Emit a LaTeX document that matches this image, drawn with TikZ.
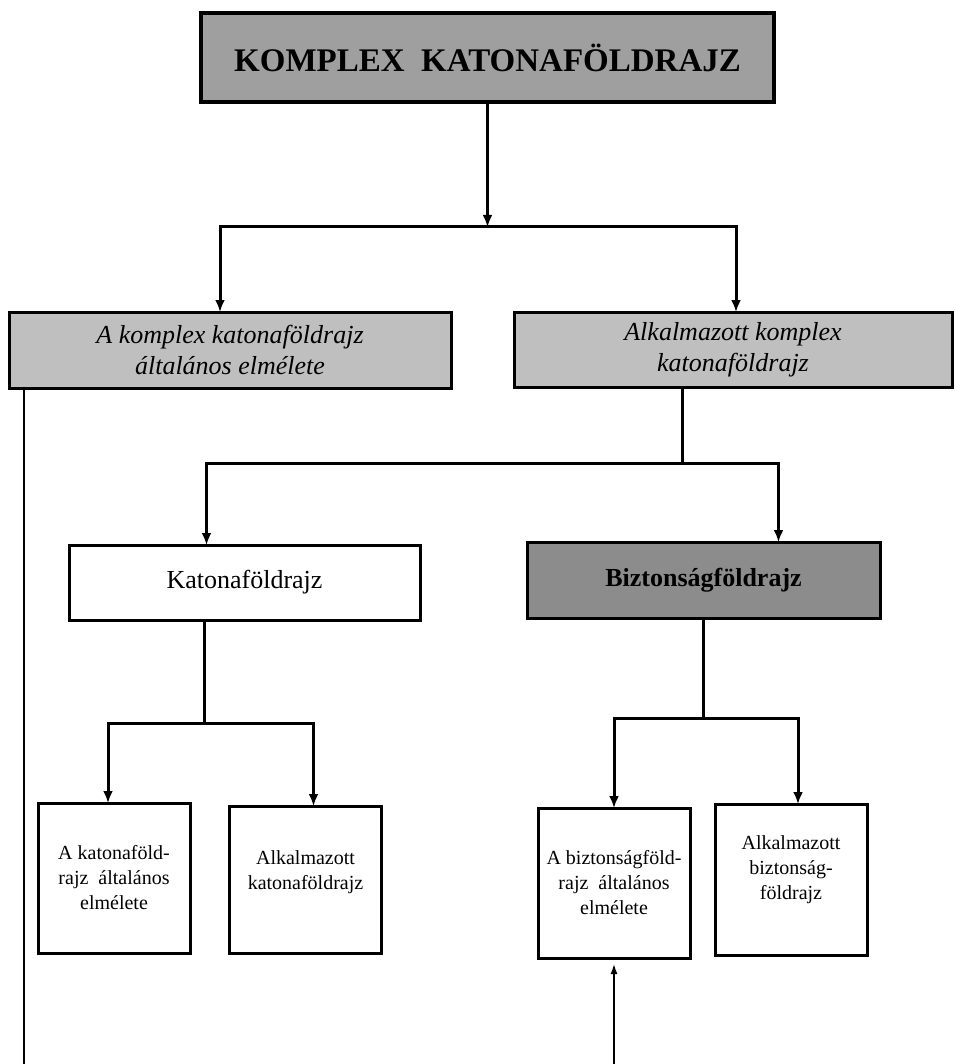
\documentclass[tikz,border=0pt]{standalone}
\usepackage{fontspec}
\setmainfont{Liberation Serif}
\usetikzlibrary{arrows.meta}
\tikzset{
  doboz/.style={draw,line width=3pt,inner sep=0pt,outer sep=0pt,align=center},
  fo/.style={doboz,fill=gray!75,line width=3.4pt,font=\fontsize{33}{40}\selectfont\bfseries},
  ag/.style={doboz,fill=gray!50,font=\fontsize{26}{31}\selectfont\itshape},
  ter/.style={doboz,font=\fontsize{26}{31}\selectfont},
  kis/.style={doboz,minimum width=152pt,minimum height=150pt,font=\fontsize{20}{25}\selectfont},
  vonal/.style={line width=3pt},
  nyil/.style={line width=3pt,-{Latex[length=12pt,width=10pt]}},
  vekony/.style={line width=1.4pt}
}
\begin{document}
\begin{tikzpicture}[x=1pt,y=-1pt]
  \useasboundingbox (0,0) rectangle (954,1064);
  % felso szint
  \node[fo,minimum width=573pt,minimum height=89pt] (komplex) at (487.5,57.5) {KOMPLEX~ KATONAFÖLDRAJZ};
  \node[ag,minimum width=442pt,minimum height=76pt] (altalanos) at (230,350) {A komplex katonaföldrajz\\általános elmélete};
  \node[ag,minimum width=438pt,minimum height=75pt] (alkalmazott) at (733,349.5) {Alkalmazott komplex\\katonaföldrajz};
  % kozepso szint
  \node[ter,minimum width=351pt,minimum height=75pt] (katona) at (244.5,582.5) {Katonaföldrajz};
  \node[ter,fill=gray!90,minimum width=353pt,minimum height=76pt,font=\fontsize{26}{31}\selectfont\bfseries] (bizt) at (703.5,580) {Biztonságföldrajz};
  % also szint
  \node[kis] (katalt) at (114,878) {A katonaföld-\\rajz~ általános\\elmélete};
  \node[kis,minimum height=147pt] (katalk) at (305.5,879.5) {Alkalmazott\\katonaföldrajz\\[-6pt]};
  \node[kis] (biztalt) at (614,883) {A biztonságföld-\\rajz~ általános\\elmélete};
  \node[kis,minimum height=151pt] (biztalk) at (791,879.5) {Alkalmazott\\biztonság-\\földrajz\\[-2pt]};
  % kapcsolatok
  \draw[nyil] (komplex.south) -- ++(0,125) coordinate (j1);
  \draw[nyil] (j1) -| ([xshift=-10pt]altalanos.north);
  \draw[nyil] (j1) -| ([xshift=3pt]alkalmazott.north);
  \draw[vonal] ([xshift=-51pt]alkalmazott.south) -- ++(0,76) coordinate (j2);
  \draw[nyil] (j2) -| ([xshift=-38pt]katona.north);
  \draw[nyil] (j2) -| ([xshift=75pt]bizt.north);
  \draw[vonal] ([xshift=-40pt]katona.south) -- ++(0,103) coordinate (j3);
  \draw[nyil] (j3) -| ([xshift=-6pt]katalt.north);
  \draw[nyil] (j3) -| ([xshift=8pt]katalk.north);
  \draw[vonal] (bizt.south) -- ++(0,100) coordinate (j4);
  \draw[nyil] (j4) -| (biztalt.north);
  \draw[nyil] (j4) -| ([xshift=7pt]biztalk.north);
  % lap alja
  \coordinate (alj1) at (24,1064);
  \coordinate (alj2) at (614,1064);
  \draw[vekony] (alj1 |- altalanos.south) -- (alj1);
  \draw[vekony,-{Latex[length=10pt,width=7pt]}] (alj2) -- ([yshift=-6pt]biztalt.south);
\end{tikzpicture}
\end{document}
